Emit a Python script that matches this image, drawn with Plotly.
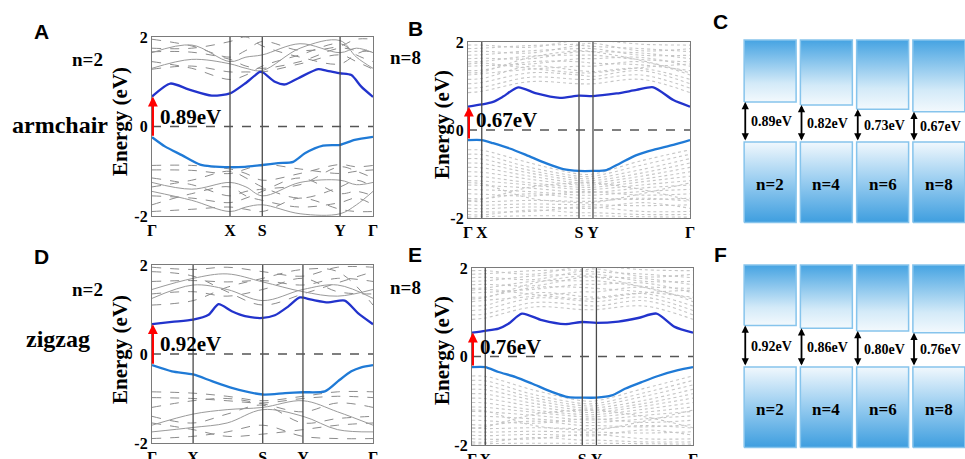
import plotly.graph_objects as go

W, H = 965, 459

# ---------------- data ----------------
SYM_LABELS = ['Γ', 'X', 'S', 'Y', 'Γ']

# high-symmetry positions (normalised path length)
SYM_A = [0, 0.353, 0.499, 0.851, 1.0]
SYM_B = [0, 0.062, 0.500, 0.563, 1.0]
SYM_D = [0, 0.186, 0.501, 0.683, 1.0]
SYM_E = [0, 0.060, 0.499, 0.563, 1.0]

# highlighted conduction / valence bands
CB_A_K = [0, 0.083, 0.165, 0.271, 0.353, 0.421, 0.489, 0.504, 0.556, 0.602, 0.662, 0.752, 0.789, 0.851, 0.902, 0.947, 1.0]
CB_A_E = [0.67, 0.96, 0.83, 0.69, 0.74, 0.96, 1.22, 1.20, 1.00, 0.94, 1.08, 1.28, 1.25, 1.19, 1.15, 0.89, 0.66]
VB_A_K = [0, 0.06, 0.135, 0.218, 0.353, 0.421, 0.499, 0.571, 0.639, 0.692, 0.774, 0.851, 0.917, 1.0]
VB_A_E = [-0.24, -0.45, -0.64, -0.85, -0.91, -0.90, -0.86, -0.82, -0.79, -0.60, -0.43, -0.41, -0.30, -0.23]

CB_B_K = [0, 0.062, 0.113, 0.158, 0.226, 0.308, 0.414, 0.500, 0.563, 0.669, 0.759, 0.835, 0.925, 1.0]
CB_B_E = [0.53, 0.58, 0.64, 0.76, 0.97, 0.83, 0.73, 0.78, 0.77, 0.83, 0.91, 0.97, 0.68, 0.53]
VB_B_K = [0, 0.062, 0.113, 0.188, 0.263, 0.353, 0.429, 0.500, 0.563, 0.624, 0.684, 0.759, 0.835, 0.925, 1.0]
VB_B_E = [-0.23, -0.23, -0.30, -0.42, -0.57, -0.76, -0.89, -0.93, -0.93, -0.91, -0.76, -0.57, -0.45, -0.34, -0.23]

CB_D_K = [0, 0.09, 0.186, 0.256, 0.301, 0.361, 0.421, 0.501, 0.556, 0.617, 0.669, 0.722, 0.797, 0.872, 0.932, 1.0]
CB_D_E = [0.67, 0.72, 0.77, 0.88, 1.12, 0.96, 0.85, 0.81, 0.87, 1.07, 1.27, 1.22, 1.16, 1.20, 0.92, 0.67]
VB_D_K = [0, 0.09, 0.186, 0.271, 0.361, 0.501, 0.602, 0.683, 0.782, 0.842, 0.902, 0.947, 1.0]
VB_D_E = [-0.25, -0.39, -0.46, -0.61, -0.76, -0.91, -0.88, -0.86, -0.84, -0.61, -0.39, -0.30, -0.25]

CB_E_K = [0, 0.060, 0.12, 0.165, 0.226, 0.316, 0.421, 0.499, 0.563, 0.662, 0.752, 0.835, 0.917, 1.0]
CB_E_E = [0.54, 0.58, 0.63, 0.74, 0.97, 0.82, 0.73, 0.78, 0.76, 0.79, 0.87, 0.97, 0.67, 0.54]
VB_E_K = [0, 0.060, 0.12, 0.195, 0.271, 0.361, 0.436, 0.499, 0.563, 0.632, 0.692, 0.767, 0.842, 0.932, 1.0]
VB_E_E = [-0.24, -0.24, -0.35, -0.46, -0.61, -0.80, -0.92, -0.93, -0.93, -0.88, -0.73, -0.58, -0.44, -0.31, -0.24]

# background (other) bands, sampled at a few k nodes
GK_A = [0, 0.18, 0.353, 0.425, 0.499, 0.67, 0.851, 0.925, 1.0]
GRAY_A_DASH = [
    [1.95, 1.80, 1.55, 1.70, 1.90, 1.70, 1.80, 1.95, 1.95],
    [1.67, 1.66, 1.50, 1.35, 1.30, 1.45, 1.75, 1.70, 1.67],
    [1.45, 1.30, 1.05, 1.15, 1.35, 1.60, 1.85, 1.60, 1.45],
    [1.28, 1.35, 1.22, 1.22, 1.22, 1.40, 1.60, 1.45, 1.28],
    [1.75, 1.75, 1.90, 2.00, 1.80, 1.55, 1.40, 1.62, 1.75],
    [-0.87, -0.87, -0.95, -1.05, -1.20, -1.05, -0.85, -0.90, -0.87],
    [-0.97, -0.98, -1.05, -0.95, -0.85, -0.95, -1.05, -1.00, -0.97],
    [-1.15, -1.30, -1.55, -1.45, -1.40, -1.30, -0.90, -1.00, -1.15],
    [-1.35, -1.20, -1.00, -1.15, -1.35, -1.60, -1.35, -1.20, -1.35],
    [-1.55, -1.60, -1.70, -1.60, -1.45, -1.15, -1.50, -1.45, -1.55],
    [-1.75, -1.50, -1.35, -1.55, -1.65, -1.80, -1.70, -1.60, -1.75],
    [-1.90, -1.85, -1.80, -1.85, -1.90, -1.60, -1.85, -1.90, -1.90],
]
GRAY_A_SOLID = [
    [1.65, 1.82, 1.45, 1.55, 1.60, 1.85, 1.65, 1.75, 1.65],
    [1.30, 1.50, 1.40, 1.30, 1.25, 1.75, 1.92, 1.55, 1.30],
    [-1.45, -1.65, -1.90, -1.80, -1.75, -1.95, -1.95, -1.75, -1.45],
    [-1.25, -1.40, -1.25, -1.35, -1.55, -1.25, -1.20, -1.30, -1.25],
]

GK_D = [0, 0.186, 0.34, 0.501, 0.683, 0.84, 1.0]
GRAY_D_DASH = [
    [1.63, 1.65, 1.62, 1.65, 1.55, 1.70, 1.63],
    [1.10, 1.20, 1.50, 1.70, 1.90, 1.85, 1.10],
    [1.85, 1.75, 1.40, 1.10, 1.35, 1.60, 1.85],
    [1.95, 1.90, 1.95, 1.85, 1.75, 1.95, 1.95],
    [1.35, 1.40, 1.30, 1.45, 1.70, 1.40, 1.35],
    [-0.85, -0.88, -0.95, -1.05, -0.95, -0.85, -0.85],
    [-0.98, -1.00, -1.05, -1.10, -1.00, -0.95, -0.98],
    [-1.20, -1.05, -1.00, -1.12, -1.30, -1.10, -1.20],
    [-1.40, -1.55, -1.35, -1.15, -1.55, -1.45, -1.40],
    [-1.90, -1.85, -1.75, -1.60, -1.85, -1.90, -1.90],
    [-1.55, -1.70, -1.85, -1.80, -1.70, -1.60, -1.55],
]
GRAY_D_SOLID = [
    [1.25, 1.55, 1.45, 1.20, 1.45, 1.55, 1.25],
    [1.45, 1.70, 1.80, 1.62, 1.40, 1.30, 1.45],
    [-1.60, -1.35, -1.25, -1.20, -1.05, -1.30, -1.60],
    [-1.75, -1.65, -1.55, -1.25, -1.40, -1.70, -1.75],
]

GK_B = [0, 0.062, 0.28, 0.500, 0.563, 0.78, 1.0]
GRAY_B = [
    [0.85, 0.88, 1.10, 1.05, 1.05, 1.15, 0.85],
    [0.95, 0.97, 1.20, 1.15, 1.15, 1.25, 0.95],
    [1.05, 1.08, 1.30, 1.25, 1.22, 1.35, 1.05],
    [1.15, 1.17, 1.45, 1.35, 1.33, 1.40, 1.15],
    [1.25, 1.28, 1.38, 1.45, 1.45, 1.55, 1.25],
    [1.35, 1.36, 1.55, 1.55, 1.52, 1.48, 1.35],
    [1.45, 1.46, 1.50, 1.62, 1.62, 1.65, 1.45],
    [1.55, 1.56, 1.68, 1.70, 1.70, 1.60, 1.55],
    [1.62, 1.63, 1.62, 1.78, 1.78, 1.75, 1.62],
    [1.70, 1.71, 1.80, 1.85, 1.85, 1.70, 1.70],
    [1.78, 1.79, 1.75, 1.92, 1.90, 1.85, 1.78],
    [1.85, 1.86, 1.92, 1.95, 1.97, 1.80, 1.85],
    [1.93, 1.93, 1.88, 2.05, 2.05, 1.95, 1.93],
    [1.30, 1.32, 1.65, 1.80, 1.78, 1.58, 1.30],
    [1.50, 1.52, 1.40, 1.30, 1.30, 1.42, 1.50],
    [-0.45, -0.46, -0.75, -1.00, -1.00, -0.70, -0.45],
    [-0.55, -0.56, -0.85, -1.05, -1.05, -0.80, -0.55],
    [-0.65, -0.66, -0.92, -1.10, -1.10, -0.90, -0.65],
    [-0.75, -0.76, -0.98, -1.15, -1.15, -0.98, -0.75],
    [-0.85, -0.86, -1.05, -1.20, -1.20, -1.05, -0.85],
    [-0.95, -0.96, -1.12, -1.25, -1.25, -1.12, -0.95],
    [-1.05, -1.06, -1.20, -1.30, -1.30, -1.18, -1.05],
    [-1.15, -1.16, -1.25, -1.35, -1.35, -1.25, -1.15],
    [-1.25, -1.26, -1.32, -1.42, -1.42, -1.32, -1.25],
    [-1.35, -1.36, -1.40, -1.48, -1.48, -1.40, -1.35],
    [-1.45, -1.46, -1.50, -1.40, -1.40, -1.48, -1.45],
    [-1.55, -1.56, -1.45, -1.55, -1.55, -1.58, -1.55],
    [-1.62, -1.63, -1.60, -1.62, -1.62, -1.55, -1.62],
    [-1.70, -1.71, -1.68, -1.70, -1.70, -1.72, -1.70],
    [-1.78, -1.79, -1.75, -1.78, -1.78, -1.65, -1.78],
    [-1.85, -1.86, -1.85, -1.75, -1.75, -1.85, -1.85],
    [-1.92, -1.93, -1.82, -1.88, -1.88, -1.92, -1.92],
    [-1.20, -1.22, -1.55, -1.65, -1.65, -1.45, -1.20],
    [-1.60, -1.58, -1.30, -1.20, -1.20, -1.35, -1.60],
    [-1.98, -1.97, -1.95, -1.95, -1.95, -1.97, -1.98],
]

GK_E = [0, 0.060, 0.28, 0.499, 0.563, 0.78, 1.0]
GRAY_E = [
    [0.84, 0.87, 1.12, 1.06, 1.06, 1.14, 0.84],
    [0.94, 0.96, 1.22, 1.16, 1.14, 1.26, 0.94],
    [1.04, 1.07, 1.32, 1.26, 1.24, 1.34, 1.04],
    [1.14, 1.16, 1.44, 1.36, 1.34, 1.42, 1.14],
    [1.24, 1.27, 1.36, 1.46, 1.46, 1.56, 1.24],
    [1.34, 1.35, 1.56, 1.56, 1.54, 1.46, 1.34],
    [1.44, 1.45, 1.52, 1.63, 1.63, 1.66, 1.44],
    [1.54, 1.55, 1.70, 1.71, 1.71, 1.58, 1.54],
    [1.62, 1.63, 1.60, 1.79, 1.79, 1.76, 1.62],
    [1.70, 1.71, 1.82, 1.86, 1.86, 1.70, 1.70],
    [1.78, 1.79, 1.74, 1.93, 1.91, 1.86, 1.78],
    [1.86, 1.87, 1.94, 1.96, 1.98, 1.80, 1.86],
    [1.94, 1.94, 1.86, 2.05, 2.05, 1.96, 1.94],
    [1.30, 1.33, 1.66, 1.82, 1.80, 1.56, 1.30],
    [1.50, 1.52, 1.40, 1.30, 1.31, 1.44, 1.50],
    [-0.44, -0.45, -0.76, -1.00, -1.00, -0.72, -0.44],
    [-0.54, -0.55, -0.86, -1.06, -1.06, -0.82, -0.54],
    [-0.64, -0.65, -0.93, -1.11, -1.11, -0.90, -0.64],
    [-0.74, -0.75, -0.99, -1.16, -1.16, -0.99, -0.74],
    [-0.84, -0.85, -1.06, -1.21, -1.21, -1.06, -0.84],
    [-0.94, -0.95, -1.13, -1.26, -1.26, -1.12, -0.94],
    [-1.04, -1.05, -1.21, -1.31, -1.31, -1.19, -1.04],
    [-1.14, -1.15, -1.26, -1.36, -1.36, -1.26, -1.14],
    [-1.24, -1.25, -1.33, -1.43, -1.43, -1.33, -1.24],
    [-1.34, -1.35, -1.41, -1.49, -1.49, -1.41, -1.34],
    [-1.44, -1.45, -1.51, -1.41, -1.41, -1.49, -1.44],
    [-1.54, -1.55, -1.46, -1.56, -1.56, -1.59, -1.54],
    [-1.62, -1.63, -1.61, -1.63, -1.63, -1.56, -1.62],
    [-1.70, -1.71, -1.69, -1.71, -1.71, -1.73, -1.70],
    [-1.78, -1.79, -1.76, -1.79, -1.79, -1.66, -1.78],
    [-1.86, -1.87, -1.86, -1.76, -1.76, -1.86, -1.86],
    [-1.93, -1.94, -1.83, -1.89, -1.89, -1.93, -1.93],
    [-1.21, -1.23, -1.56, -1.66, -1.66, -1.46, -1.21],
    [-1.61, -1.59, -1.31, -1.21, -1.21, -1.36, -1.61],
    [-1.98, -1.97, -1.96, -1.96, -1.96, -1.97, -1.98],
]

GAP_A, GAP_B, GAP_D, GAP_E = 0.89, 0.67, 0.92, 0.76

# schematic panels C / F
WIDTH_N = ['n=2', 'n=4', 'n=6', 'n=8']
GAPS_C = [0.89, 0.82, 0.73, 0.67]   # armchair
GAPS_F = [0.92, 0.86, 0.80, 0.76]   # zigzag

# ---------------- helpers / styles ----------------
SERIF = 'Liberation Serif'
SANS = 'Liberation Sans'


def fx(px):
    return px / W


def fy(py):
    return 1 - py / H


def txt(**kw):
    base = dict(showarrow=False, xanchor='center', yanchor='middle')
    base.update(kw)
    return base


fig = go.Figure()
annotations = []
shapes = []

panels = [
    dict(n='', ax='x', ay='y', dx=(152, 373), dy=(37, 216), sym=SYM_A,
         cbk=CB_A_K, cbe=CB_A_E, vbk=VB_A_K, vbe=VB_A_E, gk=GK_A,
         gdash=GRAY_A_DASH, gsolid=GRAY_A_SOLID, dense=False, gap=GAP_A,
         title=(120, 122)),
    dict(n='2', ax='x2', ay='y2', dx=(468, 690), dy=(42, 218), sym=SYM_B,
         cbk=CB_B_K, cbe=CB_B_E, vbk=VB_B_K, vbe=VB_B_E, gk=GK_B,
         gdash=GRAY_B, gsolid=[], dense=True, gap=GAP_B,
         title=(442, 125)),
    dict(n='3', ax='x3', ay='y3', dx=(152, 373), dy=(265, 443), sym=SYM_D,
         cbk=CB_D_K, cbe=CB_D_E, vbk=VB_D_K, vbe=VB_D_E, gk=GK_D,
         gdash=GRAY_D_DASH, gsolid=GRAY_D_SOLID, dense=False, gap=GAP_D,
         title=(120, 350)),
    dict(n='4', ax='x4', ay='y4', dx=(472, 693), dy=(268, 445), sym=SYM_E,
         cbk=CB_E_K, cbe=CB_E_E, vbk=VB_E_K, vbe=VB_E_E, gk=GK_E,
         gdash=GRAY_E, gsolid=[], dense=True, gap=GAP_E,
         title=(442, 351)),
]

axis_common = dict(showgrid=False, zeroline=False, showline=True, mirror=True,
                   linecolor='#7a7a7a', linewidth=1.3, ticks='', automargin=False,
                   tickfont=dict(family=SERIF, size=16, color='black', weight='bold'))

for p in panels:
    xa, ya = p['ax'], p['ay']
    if p['dense']:
        gstyle = dict(color='#c6c6c6', width=1.1, dash='dot')
    else:
        gstyle = dict(color='#8c8c8c', width=1.0, dash='dash')
    for band in p['gdash']:
        fig.add_trace(go.Scatter(x=p['gk'], y=band, mode='lines', xaxis=xa, yaxis=ya,
                                 line=dict(shape='spline', smoothing=1.0, **gstyle),
                                 hoverinfo='skip', showlegend=False))
    for band in p['gsolid']:
        fig.add_trace(go.Scatter(x=p['gk'], y=band, mode='lines', xaxis=xa, yaxis=ya,
                                 line=dict(shape='spline', smoothing=1.0, color='#9a9a9a', width=1.0),
                                 hoverinfo='skip', showlegend=False))
    fig.add_trace(go.Scatter(x=p['cbk'], y=p['cbe'], mode='lines', xaxis=xa, yaxis=ya,
                             line=dict(shape='spline', smoothing=0.7, color='#2233cc', width=2.3),
                             hoverinfo='skip', showlegend=False))
    fig.add_trace(go.Scatter(x=p['vbk'], y=p['vbe'], mode='lines', xaxis=xa, yaxis=ya,
                             line=dict(shape='spline', smoothing=0.7, color='#1f7ad6', width=2.3),
                             hoverinfo='skip', showlegend=False))

    # high-symmetry vertical lines
    for k in p['sym'][1:-1]:
        shapes.append(dict(type='line', xref=xa, yref=f'{ya} domain', x0=k, x1=k, y0=0, y1=1,
                           line=dict(color='#4a4a4a', width=1.3)))
    # Fermi level
    shapes.append(dict(type='line', xref=f'{xa} domain', yref=ya, x0=0, x1=1, y0=0, y1=0,
                       line=dict(color='#555555', width=1.3, dash='dash')))

    sfx = p['n']
    fig.update_layout(**{
        f'xaxis{sfx}': dict(domain=[fx(p['dx'][0]), fx(p['dx'][1])], range=[0, 1],
                            tickvals=p['sym'], ticktext=SYM_LABELS, anchor=ya, **axis_common),
        f'yaxis{sfx}': dict(domain=[fy(p['dy'][1]), fy(p['dy'][0])], range=[-2, 2],
                            tickvals=[-2, 0, 2], ticktext=['-2', '0', '2'], anchor=xa,
                            **axis_common),
    })

    # gap arrow
    annotations.append(dict(xref=xa, yref=ya, axref=xa, ayref=ya, x=0.004, y=p['cbe'][0],
                            ax=0.004, ay=p['vbe'][0], text='', showarrow=True,
                            arrowcolor='#ff0000', arrowwidth=2.2, arrowhead=2, arrowsize=0.9,
                            standoff=0, startstandoff=0))
    annotations.append(txt(xref=xa, yref=ya, x=0.025, y=0.22, xanchor='left',
                           text=f"{p['gap']:.2f}eV",
                           font=dict(family=SERIF, size=21, color='black', weight='bold')))
    # axis title
    annotations.append(txt(xref='paper', yref='paper', x=fx(p['title'][0]), y=fy(p['title'][1]),
                           text='Energy (eV)', textangle=-90,
                           font=dict(family=SERIF, size=21, color='black', weight='bold')))

# ---------------- schematic panels C and F ----------------
BOX_HALF = 0.462
BOX_TOP = 2.267
BOX_BOTTOM = -1.79
TOP_SCALE = [[0, '#f3f9fd'], [0.3, '#d3eaf8'], [1, '#45a3e2']]
BOT_SCALE = [[0, '#3e9edf'], [0.55, '#9fd0f1'], [1, '#f1f8fd']]

schem = [
    dict(n='5', gaps=GAPS_C, dy=(36, 226), vbm=142),
    dict(n='6', gaps=GAPS_F, dy=(261, 452), vbm=367),
]
PX_PER_EV = 45.0
for s in schem:
    xa, ya = f"x{s['n']}", f"y{s['n']}"
    for i, (g, lab) in enumerate(zip(s['gaps'], WIDTH_N)):
        x0, x1 = i - BOX_HALF, i + BOX_HALF
        fig.add_trace(go.Scatter(x=[x0, x1, x1, x0, x0], y=[g, g, BOX_TOP, BOX_TOP, g],
                                 mode='lines', fill='toself', xaxis=xa, yaxis=ya,
                                 line=dict(color='#86c4ec', width=1.5),
                                 fillgradient=dict(type='vertical', colorscale=TOP_SCALE),
                                 hoverinfo='skip', showlegend=False))
        fig.add_trace(go.Scatter(x=[x0, x1, x1, x0, x0], y=[BOX_BOTTOM, BOX_BOTTOM, 0, 0, BOX_BOTTOM],
                                 mode='lines', fill='toself', xaxis=xa, yaxis=ya,
                                 line=dict(color='#86c4ec', width=1.5),
                                 fillgradient=dict(type='vertical', colorscale=BOT_SCALE),
                                 hoverinfo='skip', showlegend=False))
        annotations.append(dict(xref=xa, yref=ya, axref=xa, ayref=ya, x=x0 + 0.02, y=g,
                                ax=x0 + 0.02, ay=0, text='', showarrow=True, arrowside='end+start',
                                arrowcolor='black', arrowwidth=1.8, arrowhead=2, arrowsize=0.8,
                                standoff=0, startstandoff=0))
        annotations.append(txt(xref=xa, yref=ya, x=x0 + 0.09, y=g / 2, xanchor='left',
                               text=f'{g:.2f}eV',
                               font=dict(family=SERIF, size=14, color='black', weight='bold')))
        annotations.append(txt(xref=xa, yref=ya, x=i, y=-0.95, text=lab,
                               font=dict(family=SERIF, size=17, color='black', weight='bold')))
    top_px, bot_px = s['dy']
    fig.update_layout(**{
        f"xaxis{s['n']}": dict(domain=[fx(742), 1], range=[-0.5, -0.5 + (W - 742) / 56.25],
                               visible=False, anchor=ya),
        f"yaxis{s['n']}": dict(domain=[fy(bot_px), fy(top_px)],
                               range=[-(bot_px - s['vbm']) / PX_PER_EV, (s['vbm'] - top_px) / PX_PER_EV],
                               visible=False, anchor=xa),
    })

# ---------------- labels ----------------
letters = [('A', 41, 31), ('B', 415, 28), ('C', 720, 22), ('D', 41, 256), ('E', 415, 254), ('F', 720, 254)]
for t, x, y in letters:
    annotations.append(txt(xref='paper', yref='paper', x=fx(x), y=fy(y), text=t,
                           font=dict(family=SANS, size=21, color='black', weight='bold')))

side_labels = [('n=2', 87, 59, 19), ('n=8', 405, 57, 19), ('n=2', 87, 289, 19), ('n=8', 405, 287, 19),
               ('armchair', 60, 125, 24), ('zigzag', 58, 339, 24)]
for t, x, y, sz in side_labels:
    annotations.append(txt(xref='paper', yref='paper', x=fx(x), y=fy(y), text=t,
                           font=dict(family=SERIF, size=sz, color='black', weight='bold')))

fig.update_layout(width=W, height=H, margin=dict(l=0, r=0, t=0, b=0, autoexpand=False),
                  paper_bgcolor='white', plot_bgcolor='white',
                  annotations=annotations, shapes=shapes, showlegend=False)

fig.write_html('out.html', config={'displayModeBar': False},
               post_script="document.body.style.margin='0px';document.body.style.overflow='hidden';")
